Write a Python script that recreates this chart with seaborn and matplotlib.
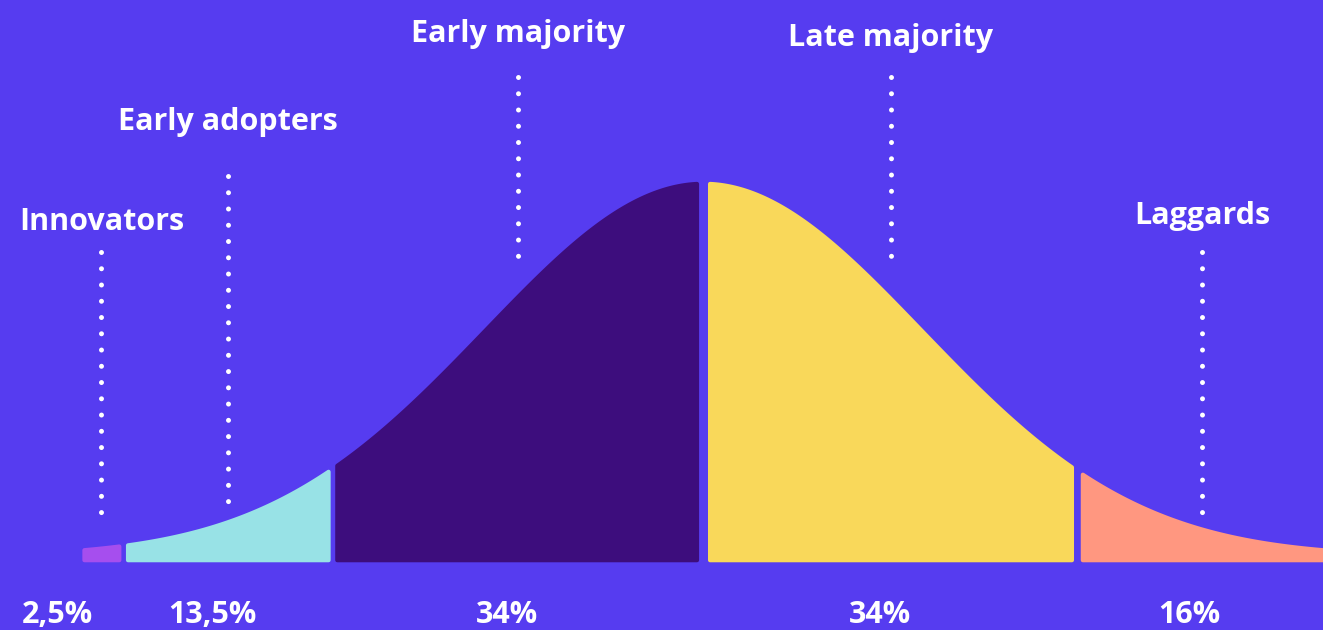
import numpy as np
import seaborn as sns
import matplotlib.pyplot as plt

# adopter groups along a bell curve (x in standard deviations)
groups = ["Innovators", "Early adopters", "Early majority", "Late majority", "Laggards"]
shares = ["2,5%", "13,5%", "34%", "34%", "16%"]
seg_start = [-2.84, -2.64, -1.68, 0.03, 1.74]
seg_end = [-2.68, -1.72, -0.03, 1.69, 3.0]
colors = ["#A64EEE", "#98E2E6", "#3D0D7D", "#F9D85A", "#FF9780"]

# where each name / dotted pointer sits
name_x = [-2.76, -2.18, -0.85, 0.86, 2.29]
name_y = [0.892, 1.155, 1.386, 1.375, 0.908]
dot_top = [0.814, 1.013, 1.273, 1.273, 0.814]
dot_bottom = [0.088, 0.146, 0.795, 0.795, 0.088]
share_x = [-2.96, -2.25, -0.90, 0.81, 2.23]

bg = "#563CF0"


def curve(x):
    return 0.021 + 0.979 * np.exp(-x ** 2 / 2)


sns.set_theme(style="white", rc={"axes.facecolor": bg, "figure.facecolor": bg})
plt.rcParams["font.family"] = ["Open Sans", "DejaVu Sans"]

fig = plt.figure(figsize=(13.23, 6.3), dpi=100)
ax = fig.add_axes([0, 0, 1, 1])

for a, b, c in zip(seg_start, seg_end, colors):
    xs = np.linspace(a, b, 300)
    ax.fill_between(xs, 0.006, curve(xs) - 0.006, facecolor=c, edgecolor=c,
                    linewidth=3, joinstyle="round")

for i, g in enumerate(groups):
    ax.text(name_x[i], name_y[i], g, color="white", fontsize=22, fontweight="bold",
            ha="center", va="center")
    ax.plot([name_x[i], name_x[i]], [dot_top[i], dot_bottom[i]], color="white",
            linewidth=3.6, linestyle=(0, (0.001, 3.25)), dash_capstyle="round")
    ax.text(share_x[i], -0.14, shares[i], color="white", fontsize=22,
            fontweight="bold", ha="center", va="center")

ax.set_xlim(-3.225, 2.844)
ax.set_ylim(-0.1785, 1.475)
ax.axis("off")

fig.savefig("out.png", dpi=100, facecolor=bg)
